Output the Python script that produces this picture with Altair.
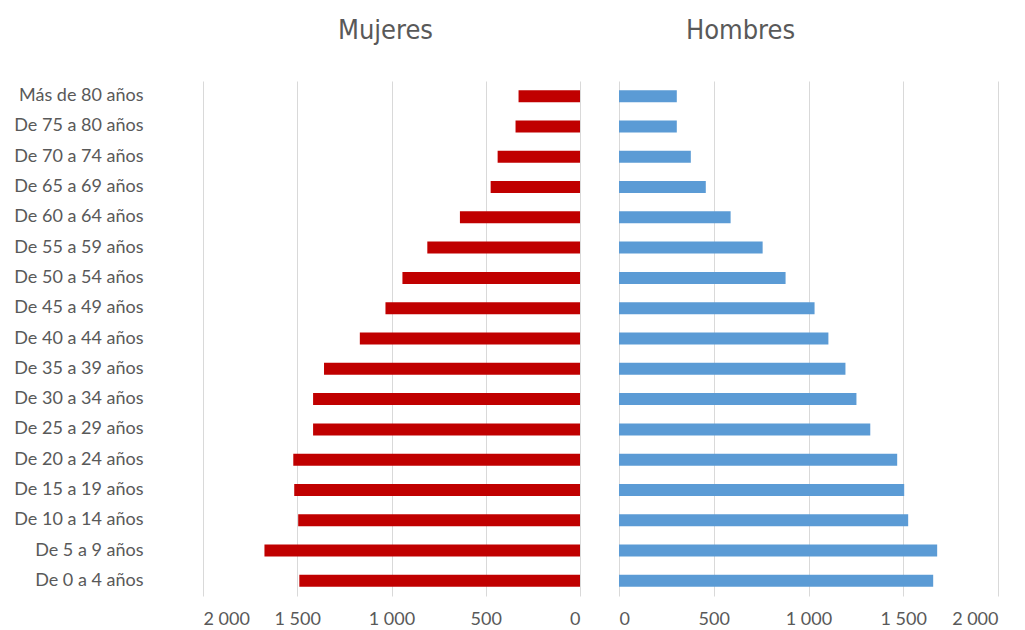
import altair as alt
import pandas as pd

grupos = ["Más de 80 años", "De 75 a 80 años", "De 70 a 74 años", "De 65 a 69 años",
          "De 60 a 64 años", "De 55 a 59 años", "De 50 a 54 años", "De 45 a 49 años",
          "De 40 a 44 años", "De 35 a 39 años", "De 30 a 34 años", "De 25 a 29 años",
          "De 20 a 24 años", "De 15 a 19 años", "De 10 a 14 años", "De 5 a 9 años",
          "De 0 a 4 años"]
mujeres = [326, 342, 437, 474, 637, 810, 942, 1032, 1168, 1358, 1416, 1416,
           1521, 1516, 1495, 1674, 1489]
hombres = [305, 305, 379, 458, 589, 758, 879, 1032, 1105, 1195, 1253, 1326,
           1468, 1505, 1526, 1679, 1658]
ticks = [0, 500, 1000, 1500, 2000]

df_m = pd.DataFrame({"grupo": grupos, "valor": mujeres})
df_h = pd.DataFrame({"grupo": grupos, "valor": hombres})

label_expr = "replace(format(datum.value, ','), ',', ' ')"
GRAY = "#595959"
LABEL_FONT = "Lato"
TITLE_FONT = "DejaVu Sans Condensed"

H = 515

def xaxis():
    return alt.Axis(values=ticks, labelExpr=label_expr, title=None, grid=True,
                    gridColor="#d9d9d9", gridWidth=1, domain=False, ticks=False,
                    labelPadding=14, labelFont=LABEL_FONT, labelFontSize=18,
                    labelColor=GRAY)

left = alt.Chart(df_m).mark_bar(color="#c00000", size=12).encode(
    x=alt.X("valor:Q", scale=alt.Scale(domain=[0, 2000], reverse=True, nice=False),
            axis=xaxis()),
    y=alt.Y("grupo:N", sort=grupos,
            axis=alt.Axis(title=None, domain=False, ticks=False, labelPadding=60,
                          labelFont=LABEL_FONT, labelFontSize=18, labelColor=GRAY,
                          labelLimit=300)),
).properties(
    width=377, height=H,
    title=alt.TitleParams("Mujeres", font=TITLE_FONT, fontSize=27, fontWeight="normal",
                          color=GRAY, dx=-6, offset=36),
)

right = alt.Chart(df_h).mark_bar(color="#5b9bd5", size=12).encode(
    x=alt.X("valor:Q", scale=alt.Scale(domain=[0, 2000], nice=False), axis=xaxis()),
    y=alt.Y("grupo:N", sort=grupos,
            axis=alt.Axis(title=None, domain=False, ticks=False, labels=False)),
).properties(
    width=379, height=H,
    title=alt.TitleParams("Hombres", font=TITLE_FONT, fontSize=27, fontWeight="normal",
                          color=GRAY, dx=-68, offset=36),
)

chart = alt.hconcat(
    left, right, spacing=39, background="white",
    padding={"top": 9, "left": 5, "right": 5, "bottom": 5},
).configure_view(stroke=None)

chart.save("out.html", embed_options={"renderer": "svg", "actions": False})
